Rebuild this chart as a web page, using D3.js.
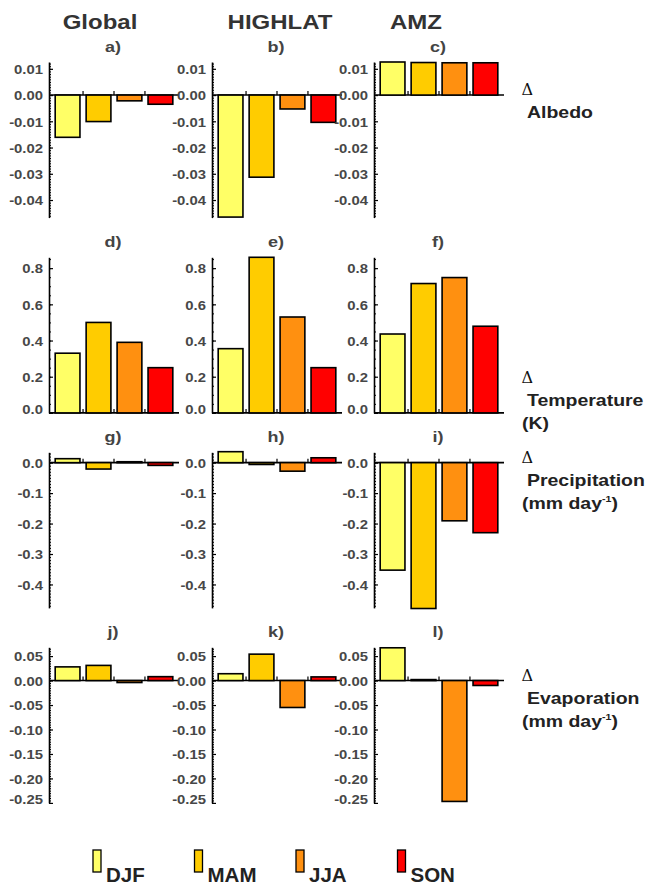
<!DOCTYPE html>
<html><head><meta charset="utf-8">
<script src="https://cdn.jsdelivr.net/npm/d3@7"></script>
<style>body{margin:0;background:#fff}svg{display:block}</style>
</head><body>
<svg id="c" width="647" height="885"></svg>
<script>
// ---------------- data ----------------
const seasons = ["DJF", "MAM", "JJA", "SON"];
const regions = ["Global", "HIGHLAT", "AMZ"];
const panelLetters = [["a)", "b)", "c)"], ["d)", "e)", "f)"], ["g)", "h)", "i)"], ["j)", "k)", "l)"]];
// values per region (Global, HIGHLAT, AMZ), per season (DJF, MAM, JJA, SON)
const albedo = [[-0.0161, -0.0101, -0.0022, -0.0035], [-0.0465, -0.0313, -0.0053, -0.0104], [0.0126, 0.0124, 0.0123, 0.0123]];
const temperature = [[0.33, 0.50, 0.39, 0.25], [0.355, 0.86, 0.53, 0.25], [0.436, 0.715, 0.748, 0.479]];
const precipitation = [[0.013, -0.021, 0.003, -0.009], [0.036, -0.006, -0.028, 0.016], [-0.353, -0.479, -0.191, -0.230]];
const evaporation = [[0.028, 0.031, -0.004, 0.008], [0.014, 0.054, -0.055, 0.0075], [0.067, 0.002, -0.247, -0.010]];
const rowData = [albedo, temperature, precipitation, evaporation];
const rowDomains = [[-0.0467, 0.0126], [0, 0.86], [-0.477, 0.034], [-0.25, 0.068]];
const albedoTicks = [-0.04, -0.03, -0.02, -0.01, 0, 0.01];
const temperatureTicks = [0, 0.2, 0.4, 0.6, 0.8];
const precipitationTicks = [-0.4, -0.3, -0.2, -0.1, 0];
const evaporationTicks = [-0.25, -0.2, -0.15, -0.1, -0.05, 0, 0.05];
const rowTicks = [albedoTicks, temperatureTicks, precipitationTicks, evaporationTicks];
const rowFormats = [".2f", ".1f", ".1f", ".2f"];
const rowMinor = [0.001, 0.05, 0.01, 0.005];
const rowLabels = [["Albedo"], ["Temperature", "(K)"], ["Precipitation", "(mm day", "-1", ")"], ["Evaporation", "(mm day", "-1", ")"]];
const colors = ["#ffff66", "#ffcc00", "#ff9010", "#ff0000"];

// ---------------- layout ----------------
const svg = d3.select("#c");
const colX = [49, 212, 374];
const panelW = 130;
const rowTop = [62, 257.3, 452.3, 647.3];
const panelH = 155.6;
const SX = 1.2;
const FONT = "'Liberation Sans', Arial, Helvetica, sans-serif";

function txt(g, x, y, s, o) {
  o = o || {};
  return g.append("text")
    .attr("transform", `translate(${x},${y}) scale(${o.sx || 1},1)`)
    .attr("text-anchor", o.anchor || "start")
    .attr("font-family", o.family || FONT)
    .attr("font-weight", o.weight || "bold")
    .attr("font-size", o.size || 12)
    .attr("fill", o.fill || "#333")
    .text(s);
}

// column titles
const titleX = [100, 280, 416];
regions.forEach((r, i) => txt(svg, titleX[i], 28.5, r, {size: 20, anchor: "middle", sx: SX, fill: "#333"}));

rowData.forEach((data, ri) => {
  const y = d3.scaleLinear().domain(rowDomains[ri]).range([rowTop[ri] + panelH, rowTop[ri]]);
  const fmt = d3.format(rowFormats[ri]);
  regions.forEach((reg, ci) => {
    const g = svg.append("g").attr("transform", `translate(${colX[ci]},0)`);
    const x = d3.scaleBand().domain(seasons).range([0, panelW]).paddingInner(0.2).paddingOuter(0.2);
    // panel letter
    txt(g, panelW / 2 - 1, rowTop[ri] - 10.5, panelLetters[ri][ci], {size: 15, anchor: "middle", sx: SX, fill: "#444"});
    // baseline
    g.append("line").attr("x1", 0).attr("x2", panelW).attr("y1", y(0)).attr("y2", y(0))
      .attr("stroke", "#000").attr("stroke-width", 1.6);
    // x ticks between bars
    seasons.slice(1).forEach(s => {
      const xx = x(s) - x.step() * x.paddingInner() / 2;
      g.append("line").attr("x1", xx).attr("x2", xx).attr("y1", y(0)).attr("y2", y(0) - 4)
        .attr("stroke", "#000").attr("stroke-width", 1.2);
    });
    // bars
    g.selectAll("rect.bar").data(data[ci]).join("rect").attr("class", "bar")
      .attr("x", (d, i) => x(seasons[i]))
      .attr("width", x.bandwidth())
      .attr("y", d => y(Math.max(0, d)))
      .attr("height", d => Math.abs(y(d) - y(0)))
      .attr("fill", (d, i) => colors[i])
      .attr("stroke", "#000").attr("stroke-width", 1.6);
    // minor ticks
    const [d0, d1] = rowDomains[ri];
    const minorVals = d3.range(Math.ceil(d0 / rowMinor[ri]), Math.floor(d1 / rowMinor[ri]) + 1).map(k => k * rowMinor[ri]);
    const minor = g.append("g").call(d3.axisLeft(y).tickValues(minorVals).tickSize(-2).tickFormat(""));
    minor.select(".domain").remove();
    minor.selectAll("line").attr("stroke", "#000").attr("stroke-width", 1);
    // major axis
    const ax = g.append("g").call(d3.axisLeft(y).tickValues(rowTicks[ri]).tickSizeInner(-4).tickSizeOuter(0).tickPadding(0)
      .tickFormat(d => fmt(d).replace("\u2212", "-")));
    ax.select(".domain").attr("stroke", "#000").attr("stroke-width", 1.6);
    ax.selectAll("line").attr("stroke", "#000").attr("stroke-width", 1.2);
    const lim = rowTop[ri] + panelH - 4.5;
    ax.selectAll("text").attr("font-family", FONT).attr("font-weight", "bold").attr("font-size", 13.5)
      .attr("fill", "#474747")
      .attr("x", null).attr("dy", null)
      .attr("transform", d => `translate(-6,${(y(d) > lim ? (lim - y(d)) : 0) + 4.8}) scale(1.1,1)`);
  });
  // row label
  const lab = rowLabels[ri];
  const base = y(0);
  const ry = ri === 1 ? rowTop[ri] + panelH - 29.5 : base;
  txt(svg, 521.5, ry, "\u0394", {size: 16, weight: "normal", family: "'DejaVu Serif', 'Liberation Serif', serif", fill: "#111"});
  txt(svg, 527, ry + 23, lab[0], {size: 16.5, sx: 1.18, fill: "#222"});
  if (lab.length > 1) {
    const t = txt(svg, 522, ry + 46, "", {size: 16.5, sx: 1.18, fill: "#222"});
    t.append("tspan").text(lab[1]);
    if (lab.length > 2) {
      t.append("tspan").attr("font-size", 9).attr("dy", -7).text(lab[2]);
      t.append("tspan").attr("font-size", 16.5).attr("dy", 7).text(lab[3]);
    }
  }
});

// legend
const lx = d3.scaleBand().domain(seasons).range([93, 499]);
seasons.forEach((s, i) => {
  svg.append("rect").attr("x", lx(s)).attr("y", 850).attr("width", 8).attr("height", 22)
    .attr("fill", colors[i]).attr("stroke", "#000").attr("stroke-width", 1.3);
  txt(svg, lx(s) + 13, 881.7, s, {size: 20.5, fill: "#222"});
});
</script>
</body></html>
